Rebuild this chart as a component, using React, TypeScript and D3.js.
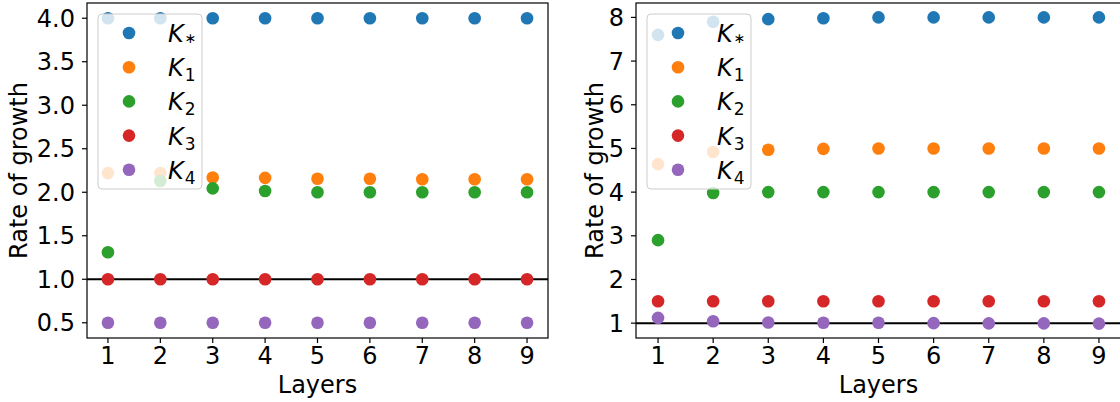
import * as d3 from 'd3';

const layers = [1, 2, 3, 4, 5, 6, 7, 8, 9];
const seriesNames = ['*', '1', '2', '3', '4'];
const colors = ['#1f77b4', '#ff7f0e', '#2ca02c', '#d62728', '#9467bd'];

// left panel
const leftKStar = [4.0, 4.0, 4.0, 4.0, 4.0, 4.0, 4.0, 4.0, 4.0];
const leftK1 = [2.22, 2.22, 2.17, 2.165, 2.155, 2.155, 2.15, 2.15, 2.15];
const leftK2 = [1.31, 2.13, 2.045, 2.015, 2.0, 2.0, 2.0, 2.0, 2.0];
const leftK3 = [1.0, 1.0, 1.0, 1.0, 1.0, 1.0, 1.0, 1.0, 1.0];
const leftK4 = [0.5, 0.5, 0.5, 0.5, 0.5, 0.5, 0.5, 0.5, 0.5];
const leftTicks = [0.5, 1.0, 1.5, 2.0, 2.5, 3.0, 3.5, 4.0];

// right panel
const rightKStar = [7.6, 7.9, 7.96, 7.98, 8.0, 8.0, 8.0, 8.0, 8.0];
const rightK1 = [4.64, 4.92, 4.97, 4.99, 5.0, 5.0, 5.0, 5.0, 5.0];
const rightK2 = [2.9, 3.98, 4.0, 4.0, 4.0, 4.0, 4.0, 4.0, 4.0];
const rightK3 = [1.5, 1.5, 1.5, 1.5, 1.5, 1.5, 1.5, 1.5, 1.5];
const rightK4 = [1.12, 1.045, 1.015, 1.01, 1.01, 1.0, 0.995, 0.995, 0.99];
const rightTicks = [1, 2, 3, 4, 5, 6, 7, 8];

const FONT = 'DejaVu Sans, sans-serif';

function Panel({
  series,
  ticks,
  fmt,
  yDomain,
  xRange,
  labelX,
}: {
  series: number[][];
  ticks: number[];
  fmt: (v: number) => string;
  yDomain: [number, number];
  xRange: [number, number];
  labelX: number;
}) {
  const top = 3;
  const bottom = 338;
  const x = d3.scaleLinear().domain([0.6, 9.4]).range(xRange);
  const y = d3.scaleLinear().domain(yDomain).range([bottom, top]);
  const [x0, x1] = xRange;

  // legend box
  const lgLeft = x0 + 11;
  const lgW = 104;
  const lgTop = 14;
  const rowH = 34.2;
  const mkX = lgLeft + 31;
  const txX = lgLeft + 70;

  return (
    <g>
      <defs>
        <clipPath id={`clip${x0}`}>
          <rect x={x0} y={top} width={x1 - x0} height={bottom - top} />
        </clipPath>
      </defs>
      <line x1={x0} x2={x1} y1={y(1)} y2={y(1)} stroke="#000" strokeWidth={2} clipPath={`url(#clip${x0})`} />
      {series.map((vals, si) =>
        vals.map((v, i) => (
          <circle key={`${si}-${i}`} cx={x(layers[i])} cy={y(v)} r={6.3} fill={colors[si]} />
        ))
      )}
      <rect x={x0} y={top} width={x1 - x0} height={bottom - top} fill="none" stroke="#000" strokeWidth={1.2} />
      {/* y ticks */}
      {ticks.map((t) => (
        <g key={t}>
          <line x1={x0 - 5} x2={x0} y1={y(t)} y2={y(t)} stroke="#000" strokeWidth={1.2} />
          <text x={x0 - 12} y={y(t)} dy="0.36em" textAnchor="end" fontSize={24} fontFamily={FONT} fill="#000">
            {fmt(t)}
          </text>
        </g>
      ))}
      {/* x ticks */}
      {layers.map((l) => (
        <g key={l}>
          <line x1={x(l)} x2={x(l)} y1={bottom} y2={bottom + 5} stroke="#000" strokeWidth={1.2} />
          <text x={x(l)} y={bottom + 26} textAnchor="middle" fontSize={24} fontFamily={FONT} fill="#000">
            {l}
          </text>
        </g>
      ))}
      <text x={(x0 + x1) / 2} y={393} textAnchor="middle" fontSize={24} fontFamily={FONT} fill="#000">
        Layers
      </text>
      <text
        transform={`translate(${labelX},${(top + bottom) / 2}) rotate(-90)`}
        textAnchor="middle"
        fontSize={24}
        fontFamily={FONT}
        fill="#000"
      >
        Rate of growth
      </text>
      {/* legend */}
      <rect x={lgLeft} y={lgTop} width={lgW} height={175} rx={4} fill="#fff" fillOpacity={0.8} stroke="#ccc" strokeWidth={1} />
      {seriesNames.map((n, i) => {
        const cy = lgTop + 19 + i * rowH;
        return (
          <g key={n}>
            <circle cx={mkX} cy={cy} r={6.3} fill={colors[i]} />
            <text x={txX} y={cy + 9} fontSize={24} fontFamily={FONT} fontStyle="italic" fill="#000">
              K
              <tspan dx={1} dy={n === '*' ? 1 : 5} fontSize={n === '*' ? 14 : 17} fontStyle="normal">
                {n === '*' ? '∗' : n}
              </tspan>
            </text>
          </g>
        );
      })}
    </g>
  );
}

export default function App() {
  return (
    <svg
      width={1120}
      height={402}
      style={{ position: 'absolute', left: 0, top: 0, background: '#fff' }}
    >
      <Panel
        series={[leftKStar, leftK1, leftK2, leftK3, leftK4]}
        ticks={leftTicks}
        fmt={d3.format('.1f')}
        yDomain={[0.325, 4.175]}
        xRange={[87, 548]}
        labelX={27}
      />
      <Panel
        series={[rightKStar, rightK1, rightK2, rightK3, rightK4]}
        ticks={rightTicks}
        fmt={d3.format('d')}
        yDomain={[0.66, 8.33]}
        xRange={[636, 1121]}
        labelX={603}
      />
    </svg>
  );
}
